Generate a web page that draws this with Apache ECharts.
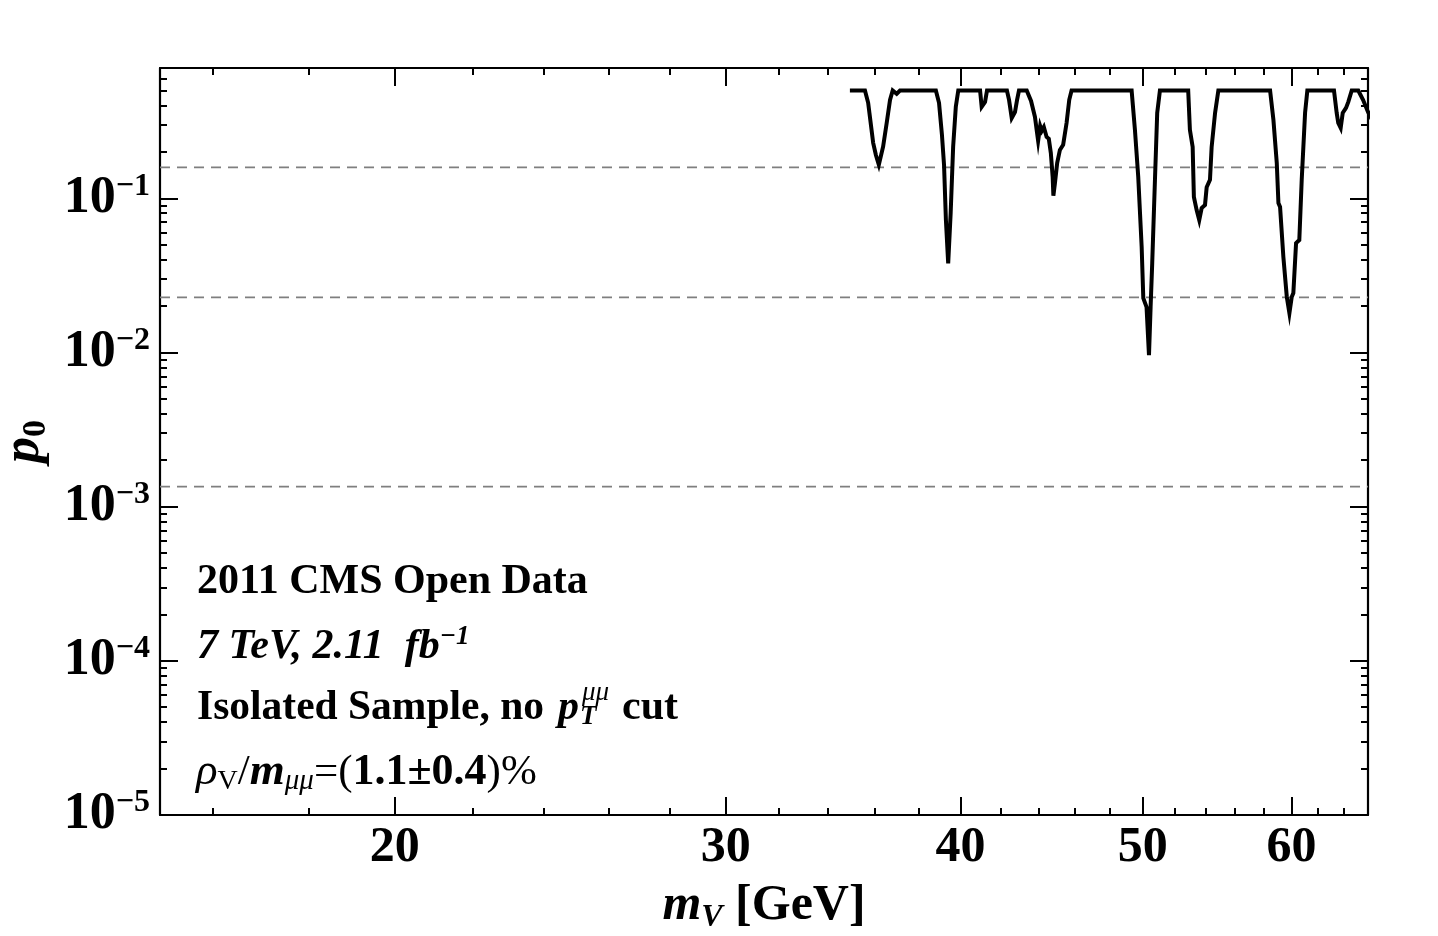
<!DOCTYPE html>
<html>
<head>
<meta charset="utf-8">
<script src="https://cdn.jsdelivr.net/npm/echarts@6/dist/echarts.min.js"></script>
<style>
	html, body { margin: 0; padding: 0; background: #fff; }
	#chart-box { width: 1438px; height: 936px; }
</style>
</head>
<body>
<div id="chart-box"></div>
<script>
// m_V [GeV]
let massValues = [34.93, 35.58, 35.72, 35.94, 36.06, 36.19, 36.38, 36.54, 36.69, 36.81, 36.99, 37.14,
	38.81, 38.96, 39.10, 39.20, 39.29, 39.40, 39.52, 39.64, 39.77, 39.89,
	40.97, 41.05, 41.22, 41.32,
	42.34, 42.45, 42.59, 42.76, 42.87, 42.97,
	43.38, 43.61, 43.82, 43.91, 43.99, 44.10, 44.19, 44.30, 44.45, 44.57, 44.68, 44.78, 44.82, 44.90, 45.03, 45.18, 45.36, 45.55, 45.70, 45.83,
	49.33, 49.53, 49.73, 49.94, 50.04, 50.24, 50.39, 50.49, 50.59, 50.76, 50.90, 51.07,
	52.87, 52.98, 53.16, 53.24, 53.42, 53.59, 53.75, 53.97, 54.08, 54.30, 54.41, 54.64, 54.86,
	58.45, 58.69, 58.93, 59.05, 59.17, 59.41, 59.66, 59.85, 60.02, 60.14, 60.34, 60.58, 60.76, 61.01, 61.18,
	63.21, 63.42, 63.54, 63.73, 63.89, 64.15, 64.33, 64.60, 65.12, 65.50, 65.90, 66.31]

// local p0
let p0Values = [0.5, 0.5, 0.416, 0.229, 0.191, 0.165, 0.216, 0.308, 0.435, 0.5, 0.476, 0.5,
	0.5, 0.416, 0.258, 0.165, 0.0723, 0.0378, 0.0803, 0.216, 0.393, 0.5,
	0.5, 0.392, 0.422, 0.5,
	0.5, 0.435, 0.332, 0.363, 0.435, 0.5,
	0.5, 0.428, 0.337, 0.278, 0.236, 0.295, 0.274, 0.290, 0.250, 0.243, 0.197, 0.138, 0.104, 0.124, 0.170, 0.206, 0.222, 0.308, 0.435, 0.5,
	0.5, 0.278, 0.138, 0.0483, 0.0225, 0.0197, 0.0096, 0.0197, 0.038, 0.132, 0.358, 0.5,
	0.5, 0.278, 0.215, 0.102, 0.0839, 0.0723, 0.0865, 0.0905, 0.118, 0.132, 0.215, 0.358, 0.5,
	0.5, 0.322, 0.170, 0.0932, 0.0878, 0.0416, 0.0229, 0.018, 0.0229, 0.0243, 0.0512, 0.0536, 0.132, 0.358, 0.5,
	0.5, 0.358, 0.308, 0.286, 0.358, 0.386, 0.422, 0.5, 0.5, 0.435, 0.363, 0.313]

// 1, 2, 3 sigma
let sigmaLevels = [0.1587, 0.02275, 0.00135]

let xRange = [15, 65.9]
let yRange = [1e-5, 0.7]
let xMajorTicks = [20, 30, 40, 50, 60]
let xMinorTicks = [16, 18, 22, 24, 26, 28, 32, 34, 36, 38, 42, 44, 46, 48, 52, 54, 56, 58, 62, 64]
let yMajorTicks = [1e-5, 1e-4, 1e-3, 1e-2, 1e-1]
let yMinorTicks = [2e-5, 3e-5, 4e-5, 5e-5, 6e-5, 7e-5, 8e-5, 9e-5,
	2e-4, 3e-4, 4e-4, 5e-4, 6e-4, 7e-4, 8e-4, 9e-4,
	2e-3, 3e-3, 4e-3, 5e-3, 6e-3, 7e-3, 8e-3, 9e-3,
	2e-2, 3e-2, 4e-2, 5e-2, 6e-2, 7e-2, 8e-2, 9e-2,
	0.2, 0.3, 0.4, 0.5, 0.6]

let serif = '"Liberation Serif", "DejaVu Serif", serif'

let makeAxis = function (dim, position, ticks, tickLength, withLine) {
	let range = dim == "x" ? xRange : yRange
	return {
		type: "log",
		position: position,
		min: range[0],
		max: range[1],
		splitLine: { show: false },
		minorTick: { show: false },
		axisLine: {
			show: withLine,
			onZero: false,
			lineStyle: { color: "#000", width: 2.2 }
		},
		axisTick: {
			show: true,
			inside: true,
			length: tickLength,
			customValues: ticks,
			lineStyle: { color: "#000", width: 2 }
		},
		axisLabel: { show: false }
	}
}

let xMain = makeAxis("x", "bottom", xMajorTicks, 18, true)
xMain.axisLabel = {
	show: true,
	customValues: xMajorTicks,
	margin: 8,
	color: "#000",
	fontFamily: serif,
	fontWeight: "bold",
	fontSize: 50
}
xMain.name = "{m|m}{v|V}{g| [GeV]}"
xMain.nameLocation = "middle"
xMain.nameGap = 63
xMain.nameTextStyle = {
	color: "#000",
	rich: {
		m: { fontFamily: serif, fontWeight: "bold", fontStyle: "italic", fontSize: 50, lineHeight: 56, color: "#000" },
		v: { fontFamily: serif, fontWeight: "bold", fontStyle: "italic", fontSize: 32, lineHeight: 34, verticalAlign: "bottom", color: "#000" },
		g: { fontFamily: serif, fontWeight: "bold", fontSize: 50, lineHeight: 56, color: "#000" }
	}
}

let yMain = makeAxis("y", "left", yMajorTicks, 18, true)
yMain.axisLabel = {
	show: true,
	customValues: yMajorTicks,
	margin: 10,
	formatter: function (value) {
		return "{b|10}{s|−" + Math.round(-Math.log10(value)) + "}"
	},
	rich: {
		b: { fontFamily: serif, fontWeight: "bold", fontSize: 52, lineHeight: 56, color: "#000" },
		s: { fontFamily: serif, fontWeight: "bold", fontSize: 32, lineHeight: 28, verticalAlign: "top", color: "#000" }
	}
}
yMain.name = "{p|p}{z|0}"
yMain.nameLocation = "middle"
yMain.nameRotate = 90
yMain.nameGap = 100
yMain.nameTextStyle = {
	color: "#000",
	rich: {
		p: { fontFamily: serif, fontWeight: "bold", fontStyle: "italic", fontSize: 52, lineHeight: 56, color: "#000" },
		z: { fontFamily: serif, fontWeight: "bold", fontSize: 34, lineHeight: 36, verticalAlign: "bottom", color: "#000" }
	}
}

let chart = echarts.init(document.getElementById("chart-box"))

let textStyleOf = function (weight, style, size) {
	return { fontFamily: serif, fontWeight: weight, fontStyle: style, fontSize: size, fill: "#000" }
}

let sigmaSeries = sigmaLevels.map(function (v) {
	return {
		type: "line",
		silent: true,
		xAxisIndex: 0,
		yAxisIndex: 0,
		data: [[xRange[0], v], [xRange[1], v]],
		showSymbol: false,
		symbol: "none",
		lineStyle: { color: "#7f7f7f", type: [10, 7], width: 1.8 },
		z: 1
	}
})

let option = {
	animation: false,
	backgroundColor: "#fff",
	grid: {
		left: 160,
		top: 68,
		right: 70,
		bottom: 121,
		containLabel: false,
		outerBoundsMode: "none"
	},
	xAxis: [
		xMain,
		makeAxis("x", "bottom", xMinorTicks, 7, false),
		makeAxis("x", "top", xMajorTicks, 18, true),
		makeAxis("x", "top", xMinorTicks, 7, false)
	],
	yAxis: [
		yMain,
		makeAxis("y", "left", yMinorTicks, 7, false),
		makeAxis("y", "right", yMajorTicks, 18, true),
		makeAxis("y", "right", yMinorTicks, 7, false)
	],
	series: sigmaSeries.concat([
		{
			name: "p0",
			type: "line",
			xAxisIndex: 0,
			yAxisIndex: 0,
			data: massValues.map(function (m, i) {
				return [m, p0Values[i]]
			}),
			showSymbol: false,
			symbol: "none",
			clip: true,
			lineStyle: { color: "#000", width: 4, join: "miter" },
			z: 3
		}
	]),
	graphic: [
		{
			type: "text", left: 197, top: 561,
			style: Object.assign({ text: "2011 CMS Open Data" }, textStyleOf("bold", "normal", 42))
		},
		{
			type: "text", left: 197, top: 624,
			style: {
				text: "{a|7 TeV, 2.11  fb}{s|−1}",
				rich: {
					a: { fontFamily: serif, fontWeight: "bold", fontStyle: "italic", fontSize: 42, lineHeight: 46, fill: "#000" },
					s: { fontFamily: serif, fontWeight: "bold", fontStyle: "italic", fontSize: 27, lineHeight: 26, verticalAlign: "top", fill: "#000" }
				}
			}
		},
		{
			type: "text", left: 197, top: 687,
			style: Object.assign({ text: "Isolated Sample, no" }, textStyleOf("bold", "normal", 41.5))
		},
		{
			type: "text", left: 558, top: 687,
			style: Object.assign({ text: "p" }, textStyleOf("bold", "italic", 42))
		},
		{
			type: "text", left: 582, top: 679,
			style: Object.assign({ text: "μμ" }, textStyleOf("normal", "italic", 27))
		},
		{
			type: "text", left: 580, top: 704,
			style: Object.assign({ text: "T" }, textStyleOf("bold", "italic", 27))
		},
		{
			type: "text", left: 622, top: 687,
			style: Object.assign({ text: "cut" }, textStyleOf("bold", "normal", 42))
		},
		{
			type: "text", left: 196, top: 750,
			style: {
				text: "{r|ρ}{sv|V}{n|/}{m|m}{sm|μμ}{n|=(}{b|1.1±0.4}{n|)%}",
				rich: {
					r: { fontFamily: serif, fontStyle: "italic", fontSize: 45, lineHeight: 46, fill: "#000" },
					sv: { fontFamily: serif, fontSize: 28, lineHeight: 30, verticalAlign: "bottom", fill: "#000" },
					n: { fontFamily: serif, fontSize: 43, lineHeight: 46, fill: "#000" },
					m: { fontFamily: serif, fontWeight: "bold", fontStyle: "italic", fontSize: 45, lineHeight: 46, fill: "#000" },
					sm: { fontFamily: serif, fontStyle: "italic", fontSize: 29, lineHeight: 30, verticalAlign: "bottom", fill: "#000" },
					b: { fontFamily: serif, fontWeight: "bold", fontSize: 44, lineHeight: 46, fill: "#000" }
				}
			}
		}
	]
}
chart.setOption(option)
</script>
</body>
</html>
